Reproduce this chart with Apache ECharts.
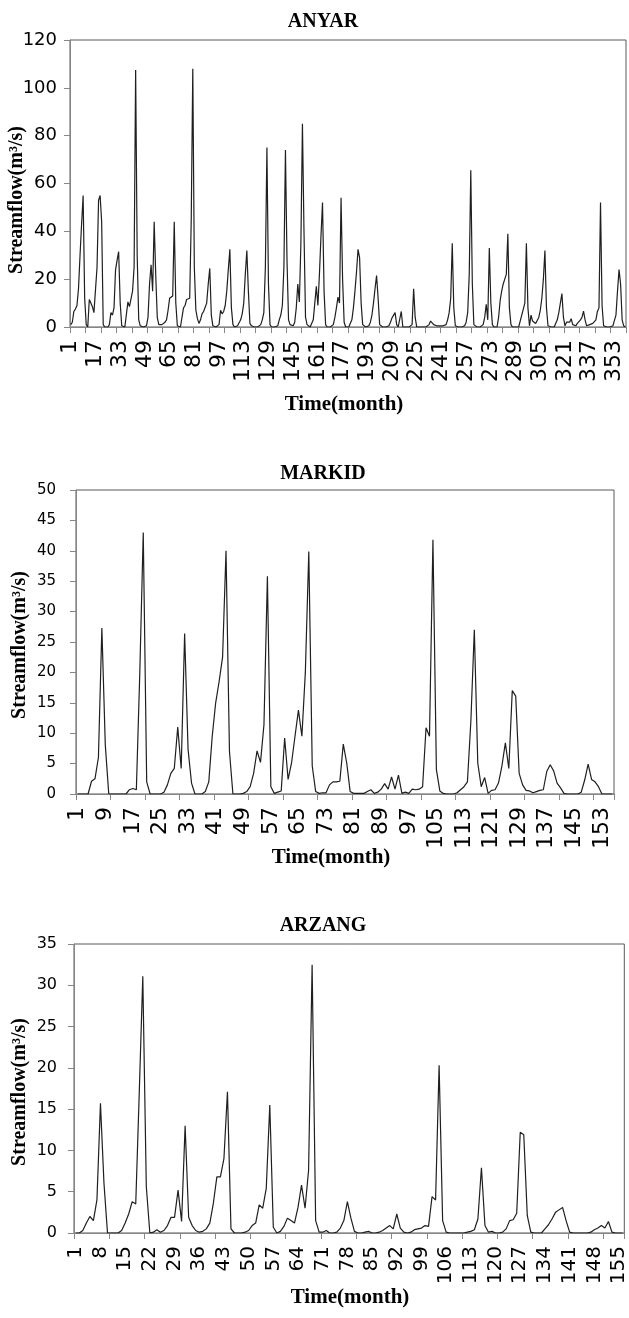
<!DOCTYPE html>
<html>
<head>
<meta charset="utf-8">
<script src="https://cdn.jsdelivr.net/npm/echarts@6/dist/echarts.min.js"></script>
<style>
html, body { margin: 0; padding: 0; background: #fff; }
#chart { width: 629px; height: 1318px; }
</style>
</head>
<body>
<div id="chart"></div>
<script>
// monthly streamflow (m3/s)
var anyarFlow = [
	1, 2, 6.5, 7.5, 9, 16, 30, 43, 55, 12, 1, 0,
	11.5, 10, 8.5, 6, 6.5, 25, 53, 55, 44, 1, 0, 0,
	0, 1, 6, 5, 8, 24, 28, 31.5, 10, 0.5, 0, 0,
	0, 10.5, 8.5, 8.5, 15, 25, 107.5, 30, 3, 0.5, 0, 0,
	0, 0.5, 4, 18, 26, 15, 44, 22, 4, 1, 1, 1,
	1, 2, 3, 7, 12, 12.5, 13, 44, 10, 0.5, 0, 0,
	0.5, 8, 9, 11.5, 11.5, 12, 45, 108, 25, 7, 3.5, 1.5,
	3, 5.5, 6.5, 6.5, 10, 18, 24.5, 5, 0.5, 0, 0, 0,
	1, 7, 5.5, 6.5, 9, 15, 24, 32.5, 8, 1, 0, 0,
	0.5, 0.5, 3, 5.5, 10, 22, 32, 15, 1.5, 0.5, 0, 0,
	0, 0, 0.5, 1, 3, 6, 25, 75, 18, 1, 0, 0,
	0, 0, 0.5, 3, 5, 9, 25, 74, 28, 3, 1, 0.5,
	0.5, 2, 8, 18, 10.5, 35, 85, 40, 4, 1, 0.5, 0,
	0.5, 3, 10, 17, 9, 22, 38, 52, 15, 1, 0, 0,
	0, 0, 1, 4, 8, 12.5, 10, 54, 20, 2, 0, 0,
	0, 0.5, 3, 8, 15, 23, 32.5, 29, 10, 1, 0.5, 0,
	0, 0.5, 2, 5, 10, 16, 21.5, 12, 1, 0.5, 0, 0,
	0, 0, 0.5, 2, 3.8, 3, 6, 1, 0, 0, 6.5, 0,
	0, 0, 0, 0, 0, 1, 16, 4, 0, 0, 0, 0,
	0, 0, 0, 0, 1, 2.5, 3, 1, 0.5, 0.5, 1, 0.5,
	1, 0.5, 1, 1, 3, 6, 12, 35, 8, 0.5, 0, 0,
	0, 0, 0, 0.5, 2, 6, 22, 65.5, 18, 1, 0.5, 0,
	0, 0, 0, 1, 4, 9.5, 3, 33, 10, 1, 0, 0,
	0, 4, 11, 15, 18, 20, 22, 39, 8, 1, 0, 0,
	0, 0, 0, 0.5, 5, 5, 10, 35, 8, 0.5, 5, 2.5,
	3, 1.5, 1.5, 4, 7, 12, 20, 32, 8, 0.5, 0, 0,
	0, 0, 0.5, 3, 6, 10, 14, 4, 0.5, 2, 1.5, 2,
	3.5, 1, 0.5, 0.5, 1.5, 2, 3, 4, 6.6, 3, 0.5, 1,
	1, 1.5, 1.5, 2, 3, 6.5, 8, 52, 9, 0.5, 0, 0,
	0, 0, 0, 0.5, 1, 5, 15, 24, 18, 3, 0.5, 0
];

var markidFlow = [
	0, 0, 0, 0, 2.1, 2.5, 6, 27.3, 8, 0, 0, 0,
	0, 0, 0, 0.7, 0.9, 0.7, 20, 43, 2, 0, 0, 0,
	0, 0.3, 1.5, 3.4, 4.2, 11, 4.2, 26.4, 7.3, 1.8, 0, 0,
	0, 0.4, 2, 9.5, 15, 18.5, 22.5, 40, 7, 0, 0, 0,
	0.1, 0.4, 1.2, 3.4, 7.1, 5.2, 11.4, 35.8, 1.2, 0.1, 0.3, 0.5,
	9.2, 2.4, 5.1, 9.5, 13.8, 9.5, 20, 39.9, 4.6, 0.4, 0.1, 0.2,
	0.2, 1.5, 2, 2, 2.1, 8.2, 5.1, 0.4, 0.1, 0.1, 0.1, 0.1,
	0.4, 0.7, 0.1, 0.3, 0.8, 1.7, 0.8, 2.8, 0.8, 3.1, 0.1, 0.3,
	0.1, 0.8, 0.7, 0.8, 1.2, 10.9, 9.5, 41.8, 4, 0.5, 0.1, 0,
	0, 0, 0.2, 0.7, 1.2, 2, 12, 27, 5.1, 1.2, 2.7, 0.1,
	0.6, 0.7, 1.8, 4.6, 8.4, 4.2, 17, 16.1, 3.4, 1.5, 0.6, 0.5,
	0.2, 0.4, 0.6, 0.7, 3.7, 4.8, 3.8, 1.8, 1, 0.1, 0, 0,
	0, 0, 0.3, 2.3, 4.9, 2.4, 2, 1.2, 0, 0, 0, 0
];

var arzangFlow = [
	0, 0, 0.3, 1.2, 2, 1.5, 4, 15.7, 6, 0, 0, 0,
	0, 0.3, 1.2, 2.3, 3.8, 3.5, 17, 31.1, 5.6, 0, 0.1, 0.4,
	0.1, 0.3, 0.9, 1.9, 1.9, 5.2, 1.4, 13, 1.9, 0.9, 0.3, 0.1,
	0.2, 0.5, 1.2, 3.6, 6.8, 6.8, 9, 17.1, 0.5, 0, 0, 0,
	0.1, 0.3, 0.9, 1.2, 3.4, 3, 5.4, 15.5, 0.7, 0, 0.2, 0.8,
	1.8, 1.5, 1.2, 3.1, 5.8, 3, 7.6, 32.5, 1.5, 0.1, 0.1, 0.3,
	0, 0, 0.1, 0.6, 1.5, 3.8, 1.8, 0.2, 0, 0, 0.1, 0.2,
	0, 0, 0.1, 0.3, 0.6, 0.9, 0.5, 2.3, 0.6, 0.1, 0, 0.1,
	0.4, 0.5, 0.6, 0.9, 0.8, 4.4, 4, 20.3, 1.5, 0.1, 0, 0,
	0, 0, 0, 0.1, 0.2, 0.4, 1.7, 7.9, 0.9, 0.1, 0.2, 0,
	0, 0.1, 0.5, 1.5, 1.6, 2.4, 12.2, 11.9, 2.1, 0.1, 0, 0,
	0, 0.5, 1, 1.7, 2.5, 2.8, 3.1, 1.5, 0.1, 0, 0, 0,
	0, 0, 0.1, 0.4, 0.6, 0.9, 0.6, 1.4, 0.1, 0, 0, 0
];

var titles = ['ANYAR', 'MARKID', 'ARZANG'];
var yMax = [120, 50, 35];
var yStep = [20, 5, 5];
var labelEvery = [16, 8, 7];   // month labels: 1,17,33.. / 1,9,17.. / 1,8,15..

function monthList(n) {
	var arr = [];
	for (var i = 1; i <= n; i++) arr.push(String(i));
	return arr;
}

var sans = '"DejaVu Sans", sans-serif';
var serif = '"Liberation Serif", "Times New Roman", serif';

var grids = [
	{ left: 70, top: 40, width: 556, height: 287 },
	{ left: 76, top: 490, width: 538, height: 304 },
	{ left: 74, top: 944, width: 554, height: 289 }
];
var xFont = [22, 22, 20];
var yFont = [18, 15, 16];
var yMargin = [13, 20, 17];
var flows = [anyarFlow, markidFlow, arzangFlow];

var myChart = echarts.init(document.getElementById('chart'), null, { renderer: 'canvas' });

var xAxes = [], yAxes = [], series = [];
for (var k = 0; k < 3; k++) {
	grids[k].show = true;
	grids[k].borderColor = '#595959';
	grids[k].borderWidth = 1;
	grids[k].containLabel = false;
	xAxes.push({
		type: 'category',
		gridIndex: k,
		data: monthList(flows[k].length),
		boundaryGap: true,
		axisLine: { lineStyle: { color: '#868686', width: 1 } },
		axisTick: { show: true, interval: 9, length: 6, lineStyle: { color: '#868686' } },
		axisLabel: {
			interval: labelEvery[k] - 1,
			rotate: 90,
			margin: 13,
			color: '#000',
			fontFamily: sans,
			fontSize: xFont[k]
		},
		splitLine: { show: false }
	});
	yAxes.push({
		type: 'value',
		gridIndex: k,
		min: 0,
		max: yMax[k],
		interval: yStep[k],
		axisLine: { show: true, lineStyle: { color: '#868686', width: 1 } },
		axisTick: { show: true, length: 6, lineStyle: { color: '#868686' } },
		axisLabel: { margin: yMargin[k], color: '#000', fontFamily: sans, fontSize: yFont[k] },
		splitLine: { show: false }
	});
	series.push({
		type: 'line',
		xAxisIndex: k,
		yAxisIndex: k,
		data: flows[k],
		showSymbol: false,
		symbol: 'none',
		lineStyle: { color: '#1f1f1f', width: 1.2 },
		silent: true
	});
}

function txt(s, x, y, size, rot) {
	return {
		type: 'text',
		x: x,
		y: y,
		rotation: rot || 0,
		style: {
			text: s,
			font: 'bold ' + size + 'px ' + serif,
			fill: '#000',
			textAlign: 'center',
			textVerticalAlign: 'middle'
		}
	};
}

var option = {
	animation: false,
	backgroundColor: '#fff',
	grid: grids,
	xAxis: xAxes,
	yAxis: yAxes,
	series: series,
	graphic: [
		txt(titles[0], 323, 22, 20),
		txt(titles[1], 323, 474, 20),
		txt(titles[2], 323, 926, 20),
		txt('Time(month)', 344, 405, 21),
		txt('Time(month)', 331, 858, 21),
		txt('Time(month)', 350, 1298, 21),
		txt('Streamflow(m³/s)', 17, 200, 20, Math.PI / 2),
		txt('Streamflow(m³/s)', 20, 645, 20, Math.PI / 2),
		txt('Streamflow(m³/s)', 20, 1092, 20, Math.PI / 2)
	]
};
myChart.setOption(option);
</script>
</body>
</html>
